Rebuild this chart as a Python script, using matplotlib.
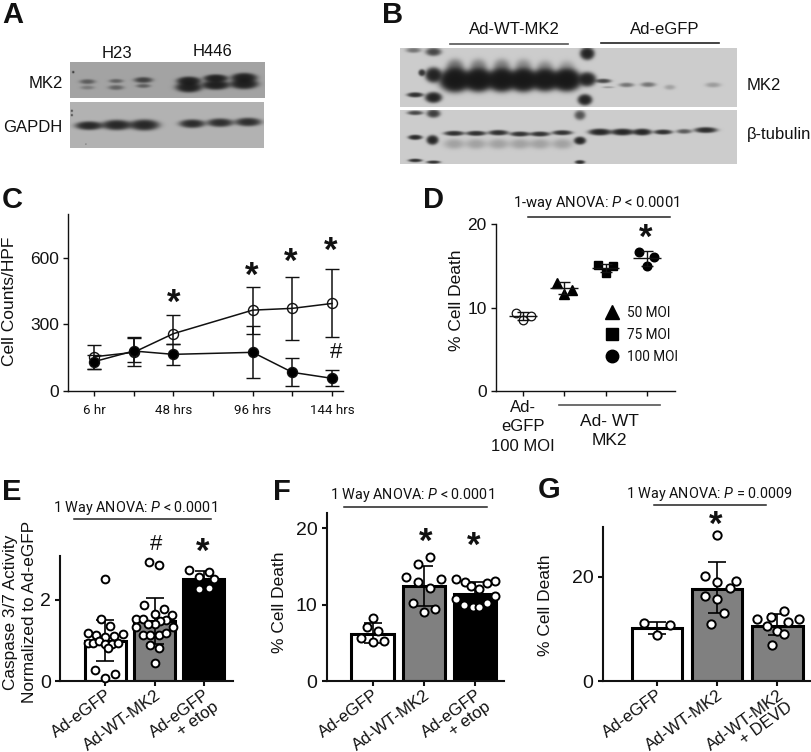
import numpy as np
import matplotlib
matplotlib.use("Agg")
import matplotlib.pyplot as plt
from matplotlib.lines import Line2D

W, H = 812, 752
SANS = "Liberation Sans"
NARROW = "Roboto"
plt.rcParams["font.family"] = SANS
plt.rcParams["mathtext.fontset"] = "custom"
plt.rcParams["mathtext.rm"] = NARROW
plt.rcParams["mathtext.it"] = NARROW + ":italic"

# ---------- panel C ----------
c_ticks = [0, 1, 2, 3, 4, 5, 6]
c_ticklabels = ["6 hr", "", "48 hrs", "", "96 hrs", "", "144 hrs"]
c_x = [0, 1, 2, 4, 5, 6]
egfp_mean = [154, 174, 258, 364, 372, 394]
egfp_hi = [207, 240, 343, 470, 514, 547]
egfp_lo = [100, 112, 211, 255, 230, 243]
mk2_mean = [132, 180, 165, 174, 84, 57]
mk2_hi = [160, 243, 211, 291, 147, 94]
mk2_lo = [100, 129, 117, 57, 21, 24]

# ---------- panel D ----------
d_means = [9.0, 12.35, 14.7, 15.9]
d_hi = [9.45, 13.05, 15.2, 16.8]
d_lo = [8.55, 11.65, 14.2, 15.0]
d_off = [-0.18, 0.18, 0.0]
d_egfp = [9.4, 9.04, 8.5]
d_50 = [12.9, 12.1, 11.6]
d_75 = [15.1, 15.0, 14.1]
d_100 = [16.7, 16.0, 15.0]

# ---------- panel E ----------
e_labels = ["Ad-eGFP", "Ad-WT-MK2", "Ad-eGFP\n+ etop"]
e_means = [1.0, 1.48, 2.51]
e_hi = [1.5, 2.06, 2.72]
e_lo = [0.5, 0.91, 2.3]
e1x = [0, -.09, .10, -.36, -.18, 0, .18, .35, -.35, -.26, -.12, 0, .13, .26, .05, -.20, .20, 0]
e1y = [2.53, 1.52, 1.37, 1.18, 1.14, 1.09, 1.12, 1.15, .95, .93, .98, .91, .92, .95, .81, .27, .18, .08]
e2x = [-.11, .09, -.21, .19, 0, -.38, -.24, .36, .24, .11, 0, -.14, .38, -.24, -.09, .09, .23, -.09, .09, 0, -.38]
e2y = [2.94, 2.86, 1.87, 1.79, 1.65, 1.54, 1.53, 1.63, 1.51, 1.48, 1.41, 1.41, 1.34, 1.14, 1.13, 1.13, 1.19, .89, .81, .44, 1.34]
e3x = [-.30, .10, -.09, .20, -.09, .10]
e3y = [2.74, 2.68, 2.56, 2.53, 2.28, 2.30]

# ---------- panel F ----------
f_labels = ["Ad-eGFP", "Ad-WT-MK2", "Ad-eGFP\n+ etop"]
f_means = [6.2, 12.4, 11.44]
f_hi = [7.55, 15.0, 13.0]
f_lo = [4.93, 9.8, 9.96]
f1x = [0, -.12, .11, -.23, 0, .23]
f1y = [8.2, 7.1, 6.6, 5.6, 5.07, 5.2]
f2x = [.12, -.11, -.35, -.11, .34, .12, -.22, .22, 0]
f2y = [16.2, 15.3, 13.6, 13.0, 13.3, 12.2, 10.2, 9.4, 9.0]
f3x = [-.37, -.20, .39, .23, -.08, .08, .39, -.37, -.21, -.05, .08, .23]
f3y = [13.4, 13.0, 13.1, 12.8, 12.4, 12.05, 11.1, 10.7, 9.96, 9.74, 9.74, 10.26]

# ---------- panel G ----------
g_labels = ["Ad-eGFP", "Ad-WT-MK2", "Ad-WT-MK2\n+ DEVD"]
g_means = [10.1, 17.6, 10.6]
g_hi = [11.4, 22.8, 12.9]
g_lo = [9.1, 13.0, 8.9]
g1x = [-.21, .22, 0]
g1y = [11.2, 10.7, 8.9]
g2x = [0, -.21, .32, 0, .21, -.21, 0, .11, -.11]
g2y = [28, 20.2, 19.2, 19, 17.9, 16.2, 15.8, 13.1, 10.9]
g3x = [.11, -.34, -.10, .36, .18, -.17, 0, .11, -.09]
g3y = [13.5, 11.9, 12.3, 11.9, 11.3, 10.6, 9.5, 9.1, 6.9]

# ---------- blots: (x, y, width, height, strength), thirds of a pixel ----------
a_mk2 = [(262, 245, 44, 14, .32), (262, 263, 40, 12, .16), (348, 243, 40, 12, .28), (348, 263, 44, 14, .28),
         (430, 240, 50, 16, .55), (430, 258, 40, 12, .3), (567, 243, 60, 22, 1.2), (567, 262, 66, 26, 1.2),
         (648, 235, 60, 20, 1.2), (648, 255, 70, 24, 1.2), (733, 233, 64, 24, 1.2), (733, 252, 70, 26, 1.2),
         (219, 216, 6, 6, .9)]
a_gapdh = [(267, 377, 70, 22, 1.0), (350, 375, 76, 26, 1.0), (433, 375, 76, 28, 1.0),
           (577, 371, 66, 22, .9), (661, 368, 68, 22, .85), (745, 366, 68, 22, .85),
           (215, 332, 5, 6, .8), (215, 345, 5, 6, .8), (257, 433, 3, 3, .6)]
b_mk2 = [(40, 150, 42, 15, .3), (100, 155, 42, 22, .6), (100, 225, 42, 38, 1.2), (65, 218, 18, 18, .8),
         (45, 285, 42, 13, .9), (100, 293, 42, 27, 1.2), (562, 160, 36, 32, 1.2), (562, 238, 44, 36, 1.2),
         (555, 300, 36, 28, 1.2),
         (165, 240, 76, 58, 2.0), (235, 240, 72, 56, 2.0), (305, 240, 72, 56, 2.0), (370, 240, 70, 56, 2.0),
         (435, 240, 70, 54, 1.8), (500, 240, 72, 54, 2.0),
         (165, 200, 48, 44, .3), (235, 200, 48, 44, .25), (305, 200, 48, 44, .25), (370, 200, 48, 44, .2),
         (435, 205, 48, 44, .2), (500, 205, 48, 44, .15),
         (610, 243, 42, 12, .6), (625, 262, 35, 6, .15), (680, 255, 42, 13, .3), (745, 254, 42, 14, .3),
         (810, 262, 32, 15, .12), (940, 255, 44, 15, .14)]
b_tub = [(45, 338, 42, 12, .6), (100, 340, 36, 22, .7), (45, 412, 36, 13, 1.0), (97, 420, 30, 24, 1.1),
         (45, 482, 36, 9, .9), (100, 487, 36, 8, .9), (540, 345, 30, 26, .5), (540, 422, 30, 20, 1.1),
         (540, 487, 26, 10, .9),
         (162, 400, 52, 13, .9), (228, 400, 52, 13, .9), (295, 398, 52, 14, .9), (360, 402, 52, 13, .85),
         (420, 402, 52, 13, .85), (487, 398, 52, 13, .85),
         (162, 432, 60, 30, .12), (228, 432, 60, 30, .12), (295, 432, 60, 30, .12), (360, 432, 60, 30, .12),
         (420, 432, 60, 30, .12), (487, 432, 60, 30, .12),
         (600, 396, 58, 17, 1.1), (668, 396, 58, 17, 1.1), (727, 396, 48, 17, 1.1), (790, 396, 48, 13, .9),
         (853, 394, 42, 13, .45), (918, 390, 58, 15, .95)]

fig = plt.figure(figsize=(W / 100, H / 100), dpi=100, facecolor="white")


def px_axes(left, right, top, bottom, **kw):
    return fig.add_axes([left / W, 1 - bottom / H, (right - left) / W, (bottom - top) / H], **kw)


ov = px_axes(0, W, 0, H, zorder=10)
ov.set_xlim(0, W)
ov.set_ylim(H, 0)
ov.axis("off")
ov.patch.set_alpha(0)


def T(x, y, s, size=12, ha="center", va="center", family=SANS, **kw):
    return ov.text(x, y, s, fontsize=size, ha=ha, va=va, family=family, color="#111111", **kw)


def rule(x0, x1, y, color="#222222", lw=1.1):
    ov.add_line(Line2D([x0, x1], [y, y], color=color, lw=lw))


def star(x, y, s="*", size=25):
    if s == "*":
        ov.text(x, y + size * 100 / 72 * 0.47, s, fontsize=size, ha="center", va="baseline",
                color="#111111", fontweight="bold")
    else:
        ov.text(x, y, s, fontsize=16, ha="center", va="center", color="#111111")


def blot(left, right, top, bottom, bg, bands, xo=0):
    ax = px_axes(left, right, top, bottom)
    yy, xx = np.mgrid[top:bottom:complex(0, (bottom - top) * 2), left:right:complex(0, (right - left) * 2)]
    d = np.zeros_like(xx)
    for bx, by, bw, bh, s in bands:
        r = ((xx - xo - bx / 3) / (bw / 6)) ** 2 + ((yy - by / 3) / (bh / 6)) ** 2
        d += s * np.exp(-r ** 1.4)
    img = 0.09 + (bg - 0.09) * np.exp(-2.2 * d)
    ax.imshow(img, cmap="gray", vmin=0, vmax=1, aspect="auto", interpolation="bilinear",
              extent=[left, right, bottom, top])
    ax.axis("off")


# ---------- blots A and B ----------
blot(70, 265, 62, 98, 0.64, a_mk2)
blot(70, 264, 102, 148, 0.70, a_gapdh)
blot(400, 737, 48, 107, 0.80, b_mk2, xo=400)
blot(400, 737, 110, 164, 0.80, b_tub, xo=400)
T(117, 53, "H23", 12)
T(213, 52, "H446", 12)
T(63, 84, "MK2", 12, ha="right")
T(62, 127, "GAPDH", 12, ha="right")
T(514, 29, "Ad-WT-MK2", 12)
T(665, 29, "Ad-eGFP", 12)
rule(450, 568, 43.5, "#555555", 1.2)
rule(601, 719, 43, "#222222", 1.2)
T(747, 86, "MK2", 12, ha="left")
T(747, 135, "β-tubulin", 12, ha="left")

# ---------- panel labels ----------
for x, y, s in [(2, 23, "A"), (382, 23, "B"), (2, 208, "C"), (423, 208, "D"),
                (2, 500, "E"), (273, 500, "F"), (538, 498, "G")]:
    T(x, y, s, 21, ha="left", va="baseline", fontweight="bold")


def style(ax, lw=1.3, size=13, tick=5, pad=3):
    for s in ("top", "right"):
        ax.spines[s].set_visible(False)
    for s in ("left", "bottom"):
        ax.spines[s].set_linewidth(lw)
        ax.spines[s].set_color("#111111")
    ax.patch.set_alpha(0)
    ax.tick_params(width=lw, length=tick * 0.72, labelsize=size, pad=pad, color="#111111", labelcolor="#111111")


# ---------- panel C ----------
ax = px_axes(68, 343, 214, 391)
ax.set_xlim((68 - 94) / 39.67, (343 - 94) / 39.67)
ax.set_ylim(0, (391 - 214) / (133.3 / 600))
style(ax, lw=1.0, size=12.5)
for mean, hi, lo, mfc, lab in [(egfp_mean, egfp_hi, egfp_lo, "none", "Ad- eGFP"),
                               (mk2_mean, mk2_hi, mk2_lo, "black", "Ad- WT MK2")]:
    yerr = [np.subtract(mean, lo), np.subtract(hi, mean)]
    ax.errorbar(c_x, mean, yerr=yerr, color="#111111", lw=1.1, capsize=5, capthick=1.1,
                marker="o", ms=7.2, mfc=mfc, mec="#111111", mew=1.0, clip_on=False, label=lab)
ax.set_yticks([0, 300, 600])
ax.set_xticks(c_ticks)
ax.set_xticklabels(c_ticklabels, family=NARROW, fontsize=9.6)
ax.tick_params(axis="x", pad=6)
ax.set_ylabel("Cell Counts/HPF", fontsize=12.5, color="#111111", va="center")
ax.yaxis.set_label_coords(10, 301, transform=ov.transData)
h, l = ax.get_legend_handles_labels()
hs = [Line2D([], [], color="#111111", lw=1.1, marker="o", ms=7.2, mfc=m, mec="#111111") for m in ("none", "black")]
ov.legend(hs, l, loc="center left", bbox_to_anchor=(92, 246), bbox_transform=ov.transData, frameon=False,
          prop={"family": NARROW, "size": 10.5}, handlelength=1.15, handletextpad=0.8, labelspacing=0.8,
          borderpad=0, borderaxespad=0, labelcolor="#111111")
for x, y in [(174, 297), (252, 270), (290.5, 256), (331, 245)]:
    star(x, y)
star(336, 353, "#")

# ---------- panel D ----------
ax = px_axes(496, 675, 224, 391)
ax.set_xlim((496 - 523.3) / 41.1, (675 - 523.3) / 41.1)
ax.set_ylim(0, 20)
style(ax, lw=1.0, size=12.5)
ax.set_yticks([0, 10, 20])
ax.set_xticks([0, 1, 2, 3])
ax.set_xticklabels(["Ad-\neGFP\n100 MOI", "", "", ""], fontsize=12, linespacing=1.35)
ax.set_ylabel("% Cell Death", fontsize=12.5, color="#111111", va="center")
ax.yaxis.set_label_coords(457, 300, transform=ov.transData)
yerr = [np.subtract(d_means, d_lo), np.subtract(d_hi, d_means)]
ax.errorbar(range(4), d_means, yerr=yerr, fmt="none", ecolor="#111111", elinewidth=1.0, capsize=4.6, capthick=1.0, zorder=4)
ax.hlines(d_means, np.arange(4) - .34, np.arange(4) + .34, color="#111111", lw=1.0, zorder=4)
ax.plot(np.add(0, d_off), d_egfp, "o", ms=6.2, mfc="none", mec="#111111", mew=0.9, zorder=3)
ax.plot(np.add(1, d_off), d_50, "^", ms=6.6, color="black", label="50 MOI", zorder=3)
ax.plot(np.add(2, d_off), d_75, "s", ms=5.8, color="black", label="75 MOI", zorder=3)
ax.plot(np.add(3, d_off), d_100, "o", ms=6.2, color="black", label="100 MOI", zorder=3)
h, l = ax.get_legend_handles_labels()
ov.legend(h, l, loc="center left", bbox_to_anchor=(605, 335), bbox_transform=ov.transData, frameon=False,
          prop={"family": NARROW, "size": 9.8}, markerscale=1.45, handlelength=1.0, handletextpad=0.6,
          labelspacing=0.6, borderpad=0, borderaxespad=0, labelcolor="#111111")
T(596, 203, r"1-way ANOVA: $\mathit{P}$ < 0.0001", 10.6, family=NARROW)
rule(528, 670, 216.7)
star(645.7, 231.7)
rule(559, 660, 405, "#555555", 1.2)
T(609.5, 431, "Ad- WT\nMK2", 12.5, linespacing=1.35)


# ---------- bar panels ----------
def bar_panel(left, right, top, bottom, c0, sp, bw, ymax, yticks, labels, means, hi, lo, colors,
              pts, ylabel, lx, ly, lsize=12.5, tsize=14, ms=5.6):
    ax = px_axes(left, right, top, bottom)
    ax.set_xlim((left - c0) / sp, (right - c0) / sp)
    ax.set_ylim(0, ymax)
    style(ax, lw=1.5, size=tsize)
    pos = np.arange(3)
    ax.bar(pos, means, width=bw, color=colors, edgecolor="black", linewidth=2.2, zorder=2)
    yerr = [np.subtract(means, lo), np.subtract(hi, means)]
    ax.errorbar(pos, means, yerr=yerr, fmt="none", ecolor="black", elinewidth=1.2, capsize=6.5, capthick=1.2, zorder=3)
    for i, (px, py) in enumerate(pts):
        ax.plot(np.add(i, px), py, "o", ms=ms, mfc="white", mec="black", mew=1.4, zorder=4, clip_on=False)
    ax.set_yticks(yticks)
    ax.set_xticks(pos)
    ax.set_xticklabels(labels, rotation=36, ha="right", va="top", rotation_mode="anchor", fontsize=12.1,
                       linespacing=1.0)
    ax.tick_params(axis="x", pad=1)
    ax.set_ylabel(ylabel, fontsize=lsize, color="#111111", linespacing=1.35, va="center")
    ax.yaxis.set_label_coords(lx, ly, transform=ov.transData)
    return ax


bar_panel(60, 233, 556, 681, 105.3, 49.2, .84, 125 / 40.5, [0, 2], e_labels, e_means, e_hi, e_lo,
          ["white", "#808080", "black"], [(e1x, e1y), (e2x, e2y), (e3x, e3y)],
          "Caspase 3/7 Activity\nNormalized to Ad-eGFP", 20, 612, lsize=12.4)
T(134.7, 508, r"1 Way ANOVA: $\mathit{P}$ < 0.0001", 10.4, family=NARROW)
rule(74, 211, 519.3)
star(155.7, 544, "#")
star(202.3, 546)

bar_panel(326.7, 504, 513, 681, 372.7, 51.2, .83, 168 / 7.635, [0, 10, 20], f_labels, f_means, f_hi, f_lo,
          ["white", "#808080", "black"], [(f1x, f1y), (f2x, f2y), (f3x, f3y)],
          "% Cell Death", 280, 602.5, ms=5.8)
T(412.5, 495, r"1 Way ANOVA: $\mathit{P}$ < 0.0001", 10.4, family=NARROW)
rule(344, 486.7, 507.3)
star(425.7, 535.7)
star(473.3, 539.3)

bar_panel(602.7, 811.7, 526.7, 681, 657, 60.2, .84, 154.3 / 5.217, [0, 20], g_labels, g_means, g_hi, g_lo,
          ["white", "#808080", "#808080"], [(g1x, g1y), (g2x, g2y), (g3x, g3y)],
          "% Cell Death", 546, 605, ms=6.0)
T(709, 494, r"1 Way ANOVA: $\mathit{P}$ = 0.0009", 10.4, family=NARROW)
rule(654, 765.7, 505)
star(715.7, 518.3)

fig.savefig("out.png", dpi=100)
